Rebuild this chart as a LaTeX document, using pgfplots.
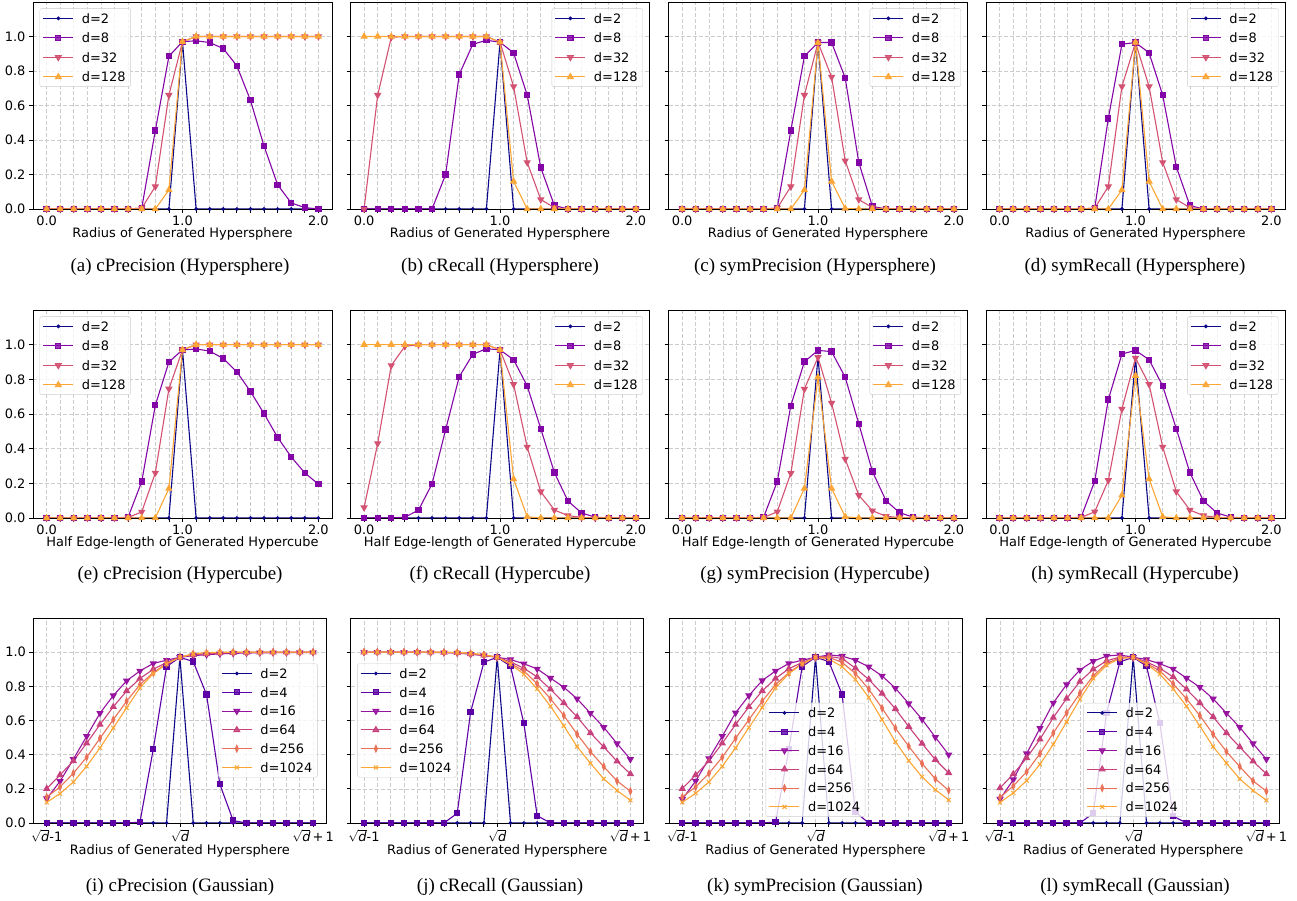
\documentclass[border=0pt]{standalone}
\usepackage{pgfplots}
\usepackage{pgfplotstable}
\pgfplotsset{compat=1.18}
\usepackage{fontspec}
\setmainfont{DejaVu Sans}
\newfontfamily\capfont{Liberation Serif}

\definecolor{c0}{HTML}{0D0887}
\definecolor{c1}{HTML}{8405A7}
\definecolor{c2}{HTML}{D35171}
\definecolor{c3}{HTML}{FCA636}
\definecolor{h0}{HTML}{0D0887}
\definecolor{h1}{HTML}{5C01A6}
\definecolor{h2}{HTML}{96139F}
\definecolor{h3}{HTML}{C7427C}
\definecolor{h4}{HTML}{E87158}
\definecolor{h5}{HTML}{FCA636}

% hypersphere / hypercube panels: x, d=2, d=8, d=32, d=128
\pgfplotstableread{
x   d2    d8     d32    d128
0.0 0     0      0      0
0.1 0     0      0      0
0.2 0     0      0      0
0.3 0     0      0      0
0.4 0     0      0      0
0.5 0     0      0      0
0.6 0     0      0      0
0.7 0     0.005  0.005  0
0.8 0     0.455  0.13   0
0.9 0     0.885  0.66   0.11
1.0 0.97  0.97   0.97   0.97
1.1 0     0.975  1.0    1.0
1.2 0     0.965  1.0    1.0
1.3 0     0.93   1.0    1.0
1.4 0     0.83   1.0    1.0
1.5 0     0.63   1.0    1.0
1.6 0     0.365  1.0    1.0
1.7 0     0.14   1.0    1.0
1.8 0     0.035  1.0    1.0
1.9 0     0.008  1.0    1.0
2.0 0     0      1.0    1.0
}\tA
\pgfplotstableread{
x   d2    d8     d32    d128
0.0 0     0      0      1.0
0.1 0     0      0.66   1.0
0.2 0     0      0.995  1.0
0.3 0     0      1.0    1.0
0.4 0     0      1.0    1.0
0.5 0     0      1.0    1.0
0.6 0     0.2    1.0    1.0
0.7 0     0.78   1.0    1.0
0.8 0     0.955  1.0    1.0
0.9 0     0.978  1.0    1.0
1.0 0.967 0.967  0.967  0.967
1.1 0     0.905  0.71   0.16
1.2 0     0.66   0.27   0
1.3 0     0.24   0.055  0
1.4 0     0.02   0.008  0
1.5 0     0      0      0
1.6 0     0      0      0
1.7 0     0      0      0
1.8 0     0      0      0
1.9 0     0      0      0
2.0 0     0      0      0
}\tB
\pgfplotstableread{
x   d2    d8     d32    d128
0.0 0     0      0      0
0.1 0     0      0      0
0.2 0     0      0      0
0.3 0     0      0      0
0.4 0     0      0      0
0.5 0     0      0      0
0.6 0     0      0      0
0.7 0     0.005  0.005  0
0.8 0     0.455  0.13   0
0.9 0     0.885  0.66   0.11
1.0 0.965 0.965  0.965  0.963
1.1 0     0.965  0.765  0.16
1.2 0     0.76   0.28   0.003
1.3 0     0.27   0.055  0
1.4 0     0.015  0.008  0
1.5 0     0      0      0
1.6 0     0      0      0
1.7 0     0      0      0
1.8 0     0      0      0
1.9 0     0      0      0
2.0 0     0      0      0
}\tC
\pgfplotstableread{
x   d2    d8     d32    d128
0.0 0     0      0      0
0.1 0     0      0      0
0.2 0     0      0      0
0.3 0     0      0      0
0.4 0     0      0      0
0.5 0     0      0      0
0.6 0     0      0      0
0.7 0     0.005  0.005  0
0.8 0     0.525  0.13   0
0.9 0     0.955  0.71   0.11
1.0 0.965 0.965  0.965  0.965
1.1 0     0.905  0.71   0.16
1.2 0     0.66   0.27   0
1.3 0     0.245  0.055  0
1.4 0     0.02   0.008  0
1.5 0     0      0      0
1.6 0     0      0      0
1.7 0     0      0      0
1.8 0     0      0      0
1.9 0     0      0      0
2.0 0     0      0      0
}\tD
\pgfplotstableread{
x   d2    d8     d32    d128
0.0 0     0      0      0
0.1 0     0      0      0
0.2 0     0      0      0
0.3 0     0      0      0
0.4 0     0      0      0
0.5 0     0      0      0
0.6 0     0.005  0.003  0
0.7 0     0.21   0.035  0
0.8 0     0.65   0.26   0
0.9 0     0.9    0.745  0.17
1.0 0.97  0.97   0.97   0.97
1.1 0     0.975  1.0    1.0
1.2 0     0.963  1.0    1.0
1.3 0     0.92   1.0    1.0
1.4 0     0.843  1.0    1.0
1.5 0     0.73   1.0    1.0
1.6 0     0.602  1.0    1.0
1.7 0     0.465  1.0    1.0
1.8 0     0.352  1.0    1.0
1.9 0     0.26   1.0    1.0
2.0 0     0.195  1.0    1.0
}\tE
\pgfplotstableread{
x   d2    d8     d32    d128
0.0 0     0      0.06   1.0
0.1 0     0      0.43   1.0
0.2 0     0      0.88   1.0
0.3 0     0.005  0.99   1.0
0.4 0     0.045  1.0    1.0
0.5 0     0.197  1.0    1.0
0.6 0     0.51   1.0    1.0
0.7 0     0.815  1.0    1.0
0.8 0     0.944  1.0    1.0
0.9 0     0.977  1.0    1.0
1.0 0.97  0.97   0.97   0.97
1.1 0     0.913  0.771  0.225
1.2 0     0.762  0.41   0.007
1.3 0     0.515  0.152  0
1.4 0     0.262  0.046  0
1.5 0     0.098  0.014  0
1.6 0     0.029  0.003  0
1.7 0     0.005  0      0
1.8 0     0      0      0
1.9 0     0      0      0
2.0 0     0      0      0
}\tF
\pgfplotstableread{
x   d2    d8     d32    d128
0.0 0     0      0      0
0.1 0     0      0      0
0.2 0     0      0      0
0.3 0     0      0      0
0.4 0     0      0      0
0.5 0     0      0      0
0.6 0     0.005  0.003  0
0.7 0     0.21   0.036  0
0.8 0     0.648  0.258  0
0.9 0     0.902  0.744  0.171
1.0 0.93  0.967  0.927  0.812
1.1 0     0.96   0.663  0.171
1.2 0     0.812  0.34   0.007
1.3 0     0.544  0.131  0
1.4 0     0.269  0.042  0
1.5 0     0.1    0.01   0
1.6 0     0.031  0.002  0
1.7 0     0.005  0      0
1.8 0     0      0      0
1.9 0     0      0      0
2.0 0     0      0      0
}\tG
\pgfplotstableread{
x   d2    d8     d32    d128
0.0 0     0      0      0
0.1 0     0      0      0
0.2 0     0      0      0
0.3 0     0      0      0
0.4 0     0      0      0
0.5 0     0      0      0
0.6 0     0.005  0.003  0
0.7 0     0.213  0.036  0
0.8 0     0.683  0.217  0
0.9 0     0.946  0.629  0.131
1.0 0.925 0.967  0.923  0.821
1.1 0     0.913  0.771  0.225
1.2 0     0.762  0.41   0.007
1.3 0     0.515  0.152  0
1.4 0     0.262  0.046  0
1.5 0     0.098  0.014  0
1.6 0     0.029  0.003  0
1.7 0     0.005  0      0
1.8 0     0      0      0
1.9 0     0      0      0
2.0 0     0      0      0
}\tH
% gaussian panels: offset from sqrt(d), d=2,4,16,64,256,1024
\pgfplotstableread{
x    d2   d4    d16   d64   d256  d1024
-1.0 0    0     0.143 0.201 0.152 0.121
-0.9 0    0     0.244 0.281 0.211 0.172
-0.8 0    0     0.373 0.363 0.291 0.240
-0.7 0    0     0.508 0.467 0.385 0.332
-0.6 0    0     0.643 0.576 0.496 0.440
-0.5 0    0     0.746 0.680 0.605 0.557
-0.4 0    0     0.832 0.773 0.713 0.674
-0.3 0    0.005 0.890 0.846 0.810 0.791
-0.2 0    0.432 0.934 0.900 0.880 0.875
-0.1 0    0.916 0.953 0.940 0.934 0.930
0.0  0.97 0.97  0.97  0.97  0.97  0.97
0.1  0    0.945 0.980 0.985 0.990 0.990
0.2  0    0.752 0.985 0.990 0.995 0.997
0.3  0    0.227 0.990 0.995 0.998 0.999
0.4  0    0.014 0.993 0.997 0.999 1.0
0.5  0    0     0.995 0.998 1.0   1.0
0.6  0    0     0.996 0.999 1.0   1.0
0.7  0    0     0.997 1.0   1.0   1.0
0.8  0    0     0.997 1.0   1.0   1.0
0.9  0    0     0.998 1.0   1.0   1.0
1.0  0    0     0.998 1.0   1.0   1.0
}\tI
\pgfplotstableread{
x    d2   d4    d16   d64   d256  d1024
-1.0 0    0     1.0   1.0   1.0   1.0
-0.9 0    0     1.0   1.0   1.0   1.0
-0.8 0    0     1.0   1.0   1.0   1.0
-0.7 0    0     1.0   1.0   1.0   1.0
-0.6 0    0     0.999 1.0   1.0   1.0
-0.5 0    0     0.998 0.999 1.0   1.0
-0.4 0    0     0.997 0.998 0.999 1.0
-0.3 0    0.057 0.995 0.996 0.997 0.998
-0.2 0    0.648 0.988 0.990 0.992 0.994
-0.1 0    0.941 0.980 0.982 0.984 0.985
0.0  0.97 0.97  0.97  0.97  0.97  0.97
0.1  0    0.918 0.957 0.943 0.934 0.930
0.2  0    0.584 0.932 0.906 0.890 0.871
0.3  0    0.043 0.902 0.855 0.815 0.785
0.4  0    0     0.848 0.783 0.727 0.684
0.5  0    0     0.795 0.703 0.629 0.568
0.6  0    0     0.727 0.621 0.520 0.447
0.7  0    0     0.643 0.527 0.418 0.350
0.8  0    0     0.560 0.445 0.330 0.258
0.9  0    0     0.465 0.361 0.246 0.190
1.0  0    0     0.373 0.287 0.186 0.133
}\tJ
\pgfplotstableread{
x    d2   d4    d16   d64   d256  d1024
-1.0 0    0     0.139 0.201 0.152 0.121
-0.9 0    0     0.246 0.281 0.211 0.174
-0.8 0    0     0.377 0.363 0.291 0.240
-0.7 0    0     0.508 0.467 0.385 0.332
-0.6 0    0     0.645 0.576 0.496 0.440
-0.5 0    0     0.746 0.680 0.605 0.559
-0.4 0    0     0.834 0.773 0.713 0.676
-0.3 0    0.005 0.890 0.846 0.810 0.791
-0.2 0    0.432 0.934 0.903 0.880 0.875
-0.1 0    0.916 0.953 0.940 0.934 0.930
0.0  0.97 0.97  0.97  0.97  0.97  0.97
0.1  0    0.945 0.984 0.975 0.970 0.960
0.2  0    0.752 0.977 0.963 0.940 0.915
0.3  0    0.064 0.953 0.906 0.875 0.840
0.4  0    0     0.914 0.840 0.783 0.735
0.5  0    0     0.861 0.758 0.672 0.605
0.6  0    0     0.789 0.668 0.555 0.475
0.7  0    0     0.699 0.564 0.449 0.365
0.8  0    0     0.607 0.465 0.348 0.270
0.9  0    0     0.502 0.371 0.258 0.195
1.0  0    0     0.400 0.293 0.191 0.135
}\tK
\pgfplotstableread{
x    d2   d4    d16   d64   d256  d1024
-1.0 0    0     0.140 0.205 0.150 0.120
-0.9 0    0     0.254 0.287 0.217 0.176
-0.8 0    0     0.406 0.381 0.300 0.248
-0.7 0    0     0.555 0.490 0.406 0.344
-0.6 0    0     0.703 0.617 0.527 0.460
-0.5 0    0     0.811 0.729 0.645 0.592
-0.4 0    0     0.896 0.828 0.760 0.725
-0.3 0    0.057 0.947 0.900 0.861 0.846
-0.2 0    0.645 0.977 0.949 0.936 0.924
-0.1 0    0.943 0.984 0.972 0.965 0.963
0.0  0.97 0.97  0.97  0.97  0.97  0.97
0.1  0    0.918 0.957 0.943 0.934 0.930
0.2  0    0.586 0.932 0.906 0.890 0.871
0.3  0    0.040 0.902 0.855 0.815 0.785
0.4  0    0     0.848 0.783 0.727 0.684
0.5  0    0     0.795 0.703 0.629 0.568
0.6  0    0     0.727 0.621 0.520 0.447
0.7  0    0     0.643 0.527 0.418 0.350
0.8  0    0     0.560 0.445 0.330 0.258
0.9  0    0     0.465 0.361 0.246 0.190
1.0  0    0     0.373 0.287 0.186 0.133
}\tL

\newcommand\fs{\fontsize{13}{15}\selectfont}

\pgfplotsset{
  panel/.style={
    scale only axis, width=299bp, height=207bp,
    xmin=-0.1, xmax=2.1, ymin=0, ymax=1.2,
    xtick={0,1,2}, xticklabels={0.0,1.0,2.0},
    minor xtick={0.1,0.2,0.3,0.4,0.5,0.6,0.7,0.8,0.9,1.1,1.2,1.3,1.4,1.5,1.6,1.7,1.8,1.9},
    ytick={0,0.2,0.4,0.6,0.8,1},
    yticklabels={0.0,0.2,0.4,0.6,0.8,1.0},
    grid=both,
    major grid style={gray!40, dash pattern=on 4bp off 2bp, line width=0.6bp},
    minor grid style={gray!40, dash pattern=on 4bp off 2bp, line width=0.6bp},
    tick align=outside, tick pos=left,
    major tick length=4bp, minor tick length=4bp,
    tick style={black, line width=0.8bp},
    axis line style={black, line width=0.9bp},
    tick label style={font=\fs},
    xticklabel style={inner sep=2.5bp},
    label style={font=\fs},
    xlabel style={at={(axis description cs:0.5,0)}, anchor=north, yshift=-18.5bp, inner sep=0pt},
    legend cell align=left,
    legend style={font=\fs, draw=black!20, rounded corners=2bp, fill=white,
      fill opacity=0.8, text opacity=1, draw opacity=1, inner sep=3bp, row sep=6bp,
      nodes={inner sep=2bp, text height=9.5bp, text depth=0bp},
      /tikz/every odd column/.append style={column sep=6bp}},
    legend image code/.code={\draw[mark repeat=2,mark phase=2,#1] plot coordinates {(0bp,0bp) (15bp,0bp) (30bp,0bp)};},
    every axis plot/.append style={line width=1.1bp},
  },
  gpanel/.style={panel, width=293bp, height=205bp, xmin=-1.1, xmax=1.1,
    xtick={-1,0,1},
    xticklabels={\(\sqrt{\textit{d}}\)-1, \(\sqrt{\textit{d}}\), \(\sqrt{\textit{d}}\)\,+\,1},
    minor xtick={-0.9,-0.8,-0.7,-0.6,-0.5,-0.4,-0.3,-0.2,-0.1,0.1,0.2,0.3,0.4,0.5,0.6,0.7,0.8,0.9},
    xlabel={Radius of Generated Hypersphere},
    xlabel style={yshift=-3bp},
    legend style={row sep=5.3bp}},
  noy/.style={yticklabels={}},
  s2/.style={color=c0, mark=*, mark size=1.3bp},
  s8/.style={color=c1, mark=square*, mark size=2.6bp},
  s32/.style={color=c2, mark=triangle*, mark size=3.2bp, mark options={rotate=180}},
  s128/.style={color=c3, mark=triangle*, mark size=3.2bp},
  g2/.style={color=h0, mark=*, mark size=1.3bp},
  g4/.style={color=h1, mark=square*, mark size=2.6bp},
  g16/.style={color=h2, mark=triangle*, mark size=3.2bp, mark options={rotate=180}},
  g64/.style={color=h3, mark=triangle*, mark size=3.2bp},
  g256/.style={color=h4, mark=diamond*, mark size=3.2bp, mark options={xscale=0.6}},
  g1024/.style={color=h5, mark=x, mark size=2.8bp},
  ul/.style={legend style={at={(0.022,0.969)}, anchor=north west}},
  ur/.style={legend style={at={(0.978,0.969)}, anchor=north east}},
}

\newcommand\four[1]{%
  \addplot[s2] table[x=x,y=d2]{#1}; \addlegendentry{d=2}
  \addplot[s8] table[x=x,y=d8]{#1}; \addlegendentry{d=8}
  \addplot[s32] table[x=x,y=d32]{#1}; \addlegendentry{d=32}
  \addplot[s128] table[x=x,y=d128]{#1}; \addlegendentry{d=128}}
\newcommand\six[1]{%
  \addplot[g2] table[x=x,y=d2]{#1}; \addlegendentry{d=2}
  \addplot[g4] table[x=x,y=d4]{#1}; \addlegendentry{d=4}
  \addplot[g16] table[x=x,y=d16]{#1}; \addlegendentry{d=16}
  \addplot[g64] table[x=x,y=d64]{#1}; \addlegendentry{d=64}
  \addplot[g256] table[x=x,y=d256]{#1}; \addlegendentry{d=256}
  \addplot[g1024] table[x=x,y=d1024]{#1}; \addlegendentry{d=1024}}

\begin{document}
\begin{tikzpicture}
\useasboundingbox (0,0) rectangle (1297bp,901bp);

% row 1: hypersphere
\begin{axis}[panel, ul, at={(33bp,692bp)}, anchor=south west, xlabel={Radius of Generated Hypersphere}]
\four{\tA}
\end{axis}
\begin{axis}[panel, noy, ur, at={(350.5bp,692bp)}, anchor=south west, xlabel={Radius of Generated Hypersphere}]
\four{\tB}
\end{axis}
\begin{axis}[panel, noy, ur, at={(668.5bp,692bp)}, anchor=south west, xlabel={Radius of Generated Hypersphere}]
\four{\tC}
\end{axis}
\begin{axis}[panel, noy, ur, at={(986bp,692bp)}, anchor=south west, xlabel={Radius of Generated Hypersphere}]
\four{\tD}
\end{axis}

% row 2: hypercube
\begin{axis}[panel, ul, height=208bp, at={(33bp,383bp)}, anchor=south west, xlabel={Half Edge-length of Generated Hypercube}]
\four{\tE}
\end{axis}
\begin{axis}[panel, noy, ur, height=208bp, at={(350.5bp,383bp)}, anchor=south west, xlabel={Half Edge-length of Generated Hypercube}]
\four{\tF}
\end{axis}
\begin{axis}[panel, noy, ur, height=208bp, at={(668.5bp,383bp)}, anchor=south west, xlabel={Half Edge-length of Generated Hypercube}]
\four{\tG}
\end{axis}
\begin{axis}[panel, noy, ur, height=208bp, at={(986bp,383bp)}, anchor=south west, xlabel={Half Edge-length of Generated Hypercube}]
\four{\tH}
\end{axis}

% row 3: gaussian
\begin{axis}[gpanel, at={(33.4bp,78bp)}, anchor=south west,
  legend style={at={(0.97,0.5)}, anchor=east}]
\six{\tI}
\end{axis}
\begin{axis}[gpanel, noy, at={(350.7bp,78bp)}, anchor=south west,
  legend style={at={(0.022,0.5)}, anchor=west}]
\six{\tJ}
\end{axis}
\begin{axis}[gpanel, noy, at={(669bp,78bp)}, anchor=south west,
  legend style={at={(0.5,0.03)}, anchor=south}]
\six{\tK}
\end{axis}
\begin{axis}[gpanel, noy, at={(986.7bp,78bp)}, anchor=south west,
  legend style={at={(0.5,0.03)}, anchor=south}]
\six{\tL}
\end{axis}

% captions
\begin{scope}[every node/.style={font=\capfont\fontsize{19}{22}\selectfont, anchor=base}]
\node at (180bp,629bp) {(a) cPrecision (Hypersphere)};
\node at (500bp,629bp) {(b) cRecall (Hypersphere)};
\node at (815bp,629bp) {(c) symPrecision (Hypersphere)};
\node at (1135bp,629bp) {(d) symRecall (Hypersphere)};
\node at (180bp,321bp) {(e) cPrecision (Hypercube)};
\node at (500bp,321bp) {(f) cRecall (Hypercube)};
\node at (815bp,321bp) {(g) symPrecision (Hypercube)};
\node at (1135bp,321bp) {(h) symRecall (Hypercube)};
\node at (180bp,10bp) {(i) cPrecision (Gaussian)};
\node at (500bp,10bp) {(j) cRecall (Gaussian)};
\node at (815bp,10bp) {(k) symPrecision (Gaussian)};
\node at (1135bp,10bp) {(l) symRecall (Gaussian)};
\end{scope}
\end{tikzpicture}
\end{document}
